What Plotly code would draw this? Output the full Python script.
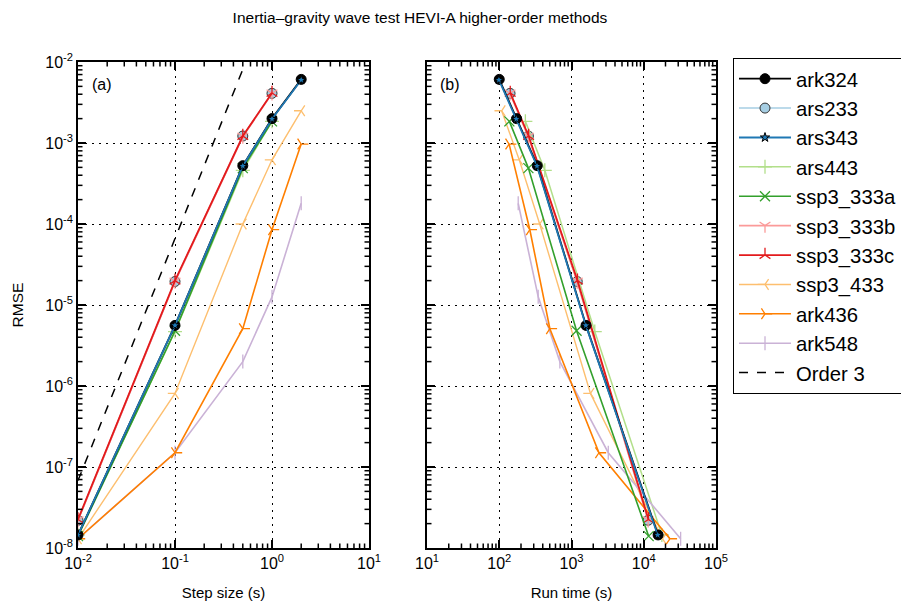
import plotly.graph_objects as go

# ---------------- data ----------------
ark324_step = [2, 1, 0.5, 0.1, 0.01]
ark324_rmse = [6.1e-3, 2.0e-3, 5.25e-4, 5.6e-6, 1.45e-8]
ark324_time = [100, 174, 336, 1590, 15800]

ars233_step = [1, 0.5, 0.1, 0.01]
ars233_rmse = [4.1e-3, 1.22e-3, 1.95e-5, 2.2e-8]
ars233_time = [141, 253, 1200, 11500]

ars343_step = [2, 1, 0.5, 0.1, 0.01]
ars343_rmse = [6.0e-3, 1.98e-3, 5.2e-4, 5.6e-6, 1.45e-8]
ars343_time = [99, 172, 333, 1580, 15600]

ars443_step = [1, 0.5, 0.1, 0.01]
ars443_rmse = [1.85e-3, 4.6e-4, 4.7e-6, 1.45e-8]
ars443_time = [230, 427, 2100, 17800]

ssp3_333a_step = [1, 0.5, 0.1, 0.01]
ssp3_333a_rmse = [1.85e-3, 4.9e-4, 4.8e-6, 1.4e-8]
ssp3_333a_time = [138, 253, 1175, 11700]

ssp3_333b_step = [1, 0.5, 0.1, 0.01]
ssp3_333b_rmse = [4.1e-3, 1.2e-3, 1.95e-5, 2.2e-8]
ssp3_333b_time = [141, 253, 1200, 11500]

ssp3_333c_step = [1, 0.5, 0.1, 0.01]
ssp3_333c_rmse = [4.15e-3, 1.22e-3, 2.0e-5, 2.25e-8]
ssp3_333c_time = [142, 255, 1210, 11600]

ssp3_433_step = [2, 1, 0.5, 0.1, 0.01]
ssp3_433_rmse = [2.5e-3, 6.2e-4, 1.0e-4, 8.1e-7, 1.3e-8]
ssp3_433_time = [108, 189, 363, 1830, 18200]

ark436_step = [2, 1, 0.5, 0.1, 0.01]
ark436_rmse = [9.7e-4, 8.5e-5, 5.1e-6, 1.5e-7, 1.3e-8]
ark436_time = [137, 265, 502, 2400, 23000]

ark548_step = [2, 1, 0.5, 0.1, 0.01]
ark548_rmse = [1.8e-4, 1.26e-5, 2.0e-6, 1.5e-7, 1.3e-8]
ark548_time = [183, 346, 690, 3230, 32400]

order3_step = [0.01, 0.5]
order3_rmse = [6.8e-8, 8.1e-3]

x_a_ticks = [0.01, 0.1, 1, 10]
x_a_labels = ["10<sup>-2</sup>", "10<sup>-1</sup>", "10<sup>0</sup>", "10<sup>1</sup>"]
x_b_ticks = [10, 100, 1000, 10000, 100000]
x_b_labels = ["10<sup>1</sup>", "10<sup>2</sup>", "10<sup>3</sup>", "10<sup>4</sup>", "10<sup>5</sup>"]
y_ticks = [1e-8, 1e-7, 1e-6, 1e-5, 1e-4, 1e-3, 1e-2]
y_labels = ["10<sup>-8</sup>", "10<sup>-7</sup>", "10<sup>-6</sup>", "10<sup>-5</sup>",
            "10<sup>-4</sup>", "10<sup>-3</sup>", "10<sup>-2</sup>"]

# axis ranges as log10 exponents
x_a_range = [-2, 1]
x_b_range = [1, 5]
y_range = [-8, -2]

# ---------------- styles ----------------
# name, step, rmse, time, colour, symbol, size, edge colour, line width, draw order
series = [
    ("ark324", ark324_step, ark324_rmse, ark324_time, "#000000", "circle", 10, "#000000", 1.8, 8),
    ("ars233", ars233_step, ars233_rmse, ars233_time, "#a6cee3", "circle", 10, "#333333", 1.5, 0),
    ("ars343", ars343_step, ars343_rmse, ars343_time, "#1f78b4", "star", 7, "#000000", 1.8, 9),
    ("ars443", ars443_step, ars443_rmse, ars443_time, "#b2df8a", "cross-thin", 10, None, 1.5, 1),
    ("ssp3_333a", ssp3_333a_step, ssp3_333a_rmse, ssp3_333a_time, "#33a02c", "x-thin", 10, None, 1.6, 7),
    ("ssp3_333b", ssp3_333b_step, ssp3_333b_rmse, ssp3_333b_time, "#fb9a99", "y-down", 9, None, 1.8, 2),
    ("ssp3_333c", ssp3_333c_step, ssp3_333c_rmse, ssp3_333c_time, "#e31a1c", "y-up", 9, None, 1.8, 6),
    ("ssp3_433", ssp3_433_step, ssp3_433_rmse, ssp3_433_time, "#fdbf6f", "y-left", 9, None, 1.4, 3),
    ("ark436", ark436_step, ark436_rmse, ark436_time, "#ff7f00", "y-right", 9, None, 1.6, 5),
    ("ark548", ark548_step, ark548_rmse, ark548_time, "#cab2d6", "line-ns", 10, None, 1.6, 4),
]

FONT = "Liberation Sans, Arial, Helvetica, sans-serif"
W, H = 901, 606
XA_PX = [78, 369]
XB_PX = [427, 716]
Y_PX = [548, 62]
XA_DOM = [XA_PX[0] / W, XA_PX[1] / W]
XB_DOM = [XB_PX[0] / W, XB_PX[1] / W]
Y_DOM = [1 - Y_PX[0] / H, 1 - Y_PX[1] / H]

fig = go.Figure()

for rank, (name, st, rm, tm, col, sym, sz, edge, lw, order) in sorted(
        enumerate(series), key=lambda t: t[1][9]):
    if edge is None:
        marker = dict(symbol=sym, size=sz, color=col, line=dict(color=col, width=1.3))
    else:
        marker = dict(symbol=sym, size=sz, color=col, line=dict(color=edge, width=1))
    fig.add_trace(go.Scatter(x=st, y=rm, mode="lines+markers", name=name, legendgroup=name,
                             legendrank=rank + 1,
                             line=dict(color=col, width=lw), marker=marker,
                             xaxis="x", yaxis="y", showlegend=True))
    fig.add_trace(go.Scatter(x=tm, y=rm, mode="lines+markers", name=name, legendgroup=name,
                             legendrank=rank + 1,
                             line=dict(color=col, width=lw), marker=marker,
                             xaxis="x2", yaxis="y2", showlegend=False))

fig.add_trace(go.Scatter(x=order3_step, y=order3_rmse, mode="lines", name="Order 3",
                         legendrank=20,
                         line=dict(color="black", width=1.5, dash="dash"),
                         xaxis="x", yaxis="y"))


# ---- minor (2..9 per decade) inside ticks on all four sides, as axis decoration ----
def minor_tick_trace(xrng, yrng, xpx, ypx, xa, ya, ln=4.5):
    x_per_px = (xrng[1] - xrng[0]) / (xpx[1] - xpx[0])
    y_per_px = (yrng[1] - yrng[0]) / (ypx[0] - ypx[1])
    xs, ys = [], []
    for e in range(xrng[0], xrng[1]):
        for m in range(2, 10):
            v = m * 10.0 ** e
            xs += [v, v, None, v, v, None]
            ys += [10.0 ** yrng[0], 10.0 ** (yrng[0] + ln * y_per_px), None,
                   10.0 ** yrng[1], 10.0 ** (yrng[1] - ln * y_per_px), None]
    for e in range(yrng[0], yrng[1]):
        for m in range(2, 10):
            v = m * 10.0 ** e
            xs += [10.0 ** xrng[0], 10.0 ** (xrng[0] + ln * x_per_px), None,
                   10.0 ** xrng[1], 10.0 ** (xrng[1] - ln * x_per_px), None]
            ys += [v, v, None, v, v, None]
    return go.Scatter(x=xs, y=ys, mode="lines", line=dict(color="black", width=1.5),
                      hoverinfo="skip", showlegend=False, cliponaxis=False,
                      connectgaps=False, xaxis=xa, yaxis=ya)


fig.add_trace(minor_tick_trace(x_a_range, y_range, XA_PX, Y_PX, "x", "y"))
fig.add_trace(minor_tick_trace(x_b_range, y_range, XB_PX, Y_PX, "x2", "y2"))

common = dict(type="log", showline=True, linecolor="black", linewidth=1.5, mirror="ticks",
              ticks="inside", ticklen=8, tickwidth=1.5, tickcolor="black", tickmode="array",
              showgrid=True, gridcolor="black", griddash="2px,5px", gridwidth=1,
              zeroline=False, automargin=False,
              tickfont=dict(size=16, color="black", family=FONT))

fig.update_layout(
    width=W, height=H,
    margin=dict(l=0, r=0, t=0, b=0, autoexpand=False),
    paper_bgcolor="white", plot_bgcolor="white",
    font=dict(family=FONT, color="black"),
    title=dict(text="Inertia\u2013gravity wave test HEVI-A higher-order methods",
               x=420 / W, xanchor="center", y=1 - 18 / H, yanchor="middle",
               font=dict(size=15.5, family=FONT, color="black")),
    xaxis=dict(domain=XA_DOM, range=x_a_range, tickvals=x_a_ticks, ticktext=x_a_labels,
               title=dict(text="Step size (s)", font=dict(size=15, family=FONT), standoff=17),
               anchor="y", **common),
    yaxis=dict(domain=Y_DOM, range=y_range, tickvals=y_ticks, ticktext=y_labels,
               title=dict(text="RMSE", font=dict(size=15.5, family=FONT), standoff=18),
               anchor="x", **common),
    xaxis2=dict(domain=XB_DOM, range=x_b_range, tickvals=x_b_ticks, ticktext=x_b_labels,
                title=dict(text="Run time (s)", font=dict(size=15, family=FONT), standoff=17),
                anchor="y2", **common),
    yaxis2=dict(domain=Y_DOM, range=y_range, tickvals=y_ticks, ticktext=y_labels,
                showticklabels=False, anchor="x2", **common),
    legend=dict(x=733 / W, y=1 - 58 / H, xanchor="left", yanchor="top",
                bordercolor="black", borderwidth=1, bgcolor="white",
                font=dict(size=20.3, family=FONT, color="black"),
                itemwidth=52, tracegroupgap=0),
    annotations=[
        dict(text="(a)", x=90 / W, y=1 - 84 / H, xref="paper", yref="paper",
             xanchor="left", yanchor="middle", showarrow=False, font=dict(size=16, family=FONT)),
        dict(text="(b)", x=438 / W, y=1 - 84 / H, xref="paper", yref="paper",
             xanchor="left", yanchor="middle", showarrow=False, font=dict(size=16, family=FONT)),
    ],
)

fig.write_html("out.html")
